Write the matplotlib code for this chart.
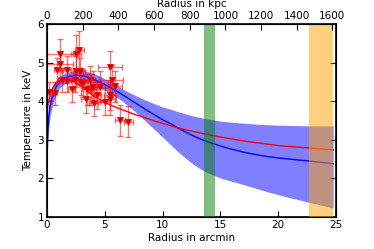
import matplotlib
matplotlib.use("Agg")
import matplotlib.pyplot as plt
import numpy as np

# ---- deprojected temperature data (arcmin, keV) ----
r_data = [0.20, 0.65, 0.89, 1.12, 1.12, 1.30, 1.70, 1.76, 2.13, 2.40, 2.51, 2.80, 2.51, 2.85,
          2.90, 3.14, 3.35, 3.43, 3.72, 3.80, 4.00, 4.05, 4.58, 4.30, 5.02, 5.45, 5.60, 5.88,
          5.45, 5.45, 6.31, 7.03]
t_data = [4.25, 4.20, 4.81, 5.22, 4.96, 4.55, 4.81, 4.53, 4.32, 4.55, 5.22, 5.33, 4.78, 4.78,
          4.50, 4.46, 4.05, 4.31, 4.55, 4.31, 4.38, 3.96, 4.38, 4.15, 3.99, 4.89, 4.55, 4.39,
          4.16, 4.05, 3.51, 3.47]
r_err = [0.20, 0.25, 0.30, 1.10, 1.10, 0.35, 0.35, 0.35, 0.30, 0.30, 0.40, 0.40, 0.30, 0.40,
         0.40, 0.40, 0.40, 0.40, 0.40, 0.40, 0.40, 0.40, 0.40, 0.40, 0.40, 1.00, 1.00, 0.60,
         0.50, 0.50, 0.40, 0.40]
t_err = [0.25, 0.30, 0.30, 0.40, 0.35, 0.30, 0.35, 0.30, 0.35, 0.30, 0.50, 0.50, 0.40, 0.35,
         0.35, 0.35, 0.35, 0.40, 0.35, 0.40, 0.40, 0.35, 0.40, 0.35, 0.35, 0.40, 0.40, 0.40,
         0.40, 0.40, 0.40, 0.40]

# ---- model profile + confidence band ----
r_model = [0.0, 0.05, 0.15, 0.25, 0.4, 0.6, 0.8, 1.1, 1.5, 2.0, 2.5, 3.0, 3.5, 4.0, 4.5, 5.0,
           5.5, 6.3, 7.0, 7.5, 8.0, 8.5, 9.0, 9.5, 10.0, 10.6, 11.3, 12.0, 12.6, 13.2, 13.8,
           14.5, 15.1, 15.8, 17.0, 18.0, 19.0, 20.0, 21.3, 22.7, 24.75]
t_model = [2.60, 3.10, 3.60, 3.85, 4.05, 4.24, 4.38, 4.50, 4.60, 4.65, 4.67, 4.66, 4.63, 4.57,
           4.50, 4.43, 4.35, 4.21, 4.08, 3.98, 3.89, 3.79, 3.70, 3.61, 3.52, 3.43, 3.31, 3.20,
           3.11, 3.03, 2.96, 2.89, 2.83, 2.77, 2.68, 2.62, 2.57, 2.53, 2.49, 2.45, 2.38]
t_upper = [3.00, 3.50, 3.90, 4.12, 4.30, 4.45, 4.55, 4.65, 4.72, 4.77, 4.80, 4.80, 4.77, 4.72,
           4.66, 4.58, 4.50, 4.36, 4.24, 4.17, 4.10, 4.03, 3.97, 3.91, 3.85, 3.80, 3.73, 3.67,
           3.62, 3.58, 3.54, 3.51, 3.48, 3.46, 3.43, 3.41, 3.39, 3.38, 3.37, 3.36, 3.36]
t_lower = [2.20, 2.75, 3.30, 3.58, 3.80, 4.03, 4.20, 4.35, 4.45, 4.51, 4.53, 4.52, 4.48, 4.42,
           4.35, 4.28, 4.20, 4.05, 3.88, 3.76, 3.63, 3.49, 3.35, 3.21, 3.07, 2.90, 2.70, 2.52,
           2.38, 2.26, 2.16, 2.07, 2.00, 1.94, 1.84, 1.75, 1.66, 1.58, 1.48, 1.38, 1.23]

# ---- second (red) model ----
r_red = [0.0, 0.1, 0.3, 0.5, 0.7, 1.0, 1.4, 1.8, 2.2, 2.7, 3.3, 4.15, 5.0, 5.8, 6.5, 7.2,
         7.87, 8.7, 9.5, 10.3, 11.07, 12.1, 13.2, 14.5, 15.8, 17.0, 18.0, 20.0, 22.5, 24.75]
t_red = [3.70, 3.95, 4.20, 4.35, 4.45, 4.52, 4.56, 4.56, 4.52, 4.44, 4.31, 4.11, 3.97, 3.86,
         3.78, 3.70, 3.63, 3.55, 3.47, 3.40, 3.33, 3.25, 3.18, 3.10, 3.03, 2.97, 2.93, 2.85,
         2.79, 2.74]

# shaded radial ranges (arcmin)
green_span = (13.55, 14.5)
orange_span = (22.7, 24.75)

KPC_PER_ARCMIN = 64.8

plt.rcParams["font.family"] = "DejaVu Sans"
plt.rcParams["font.size"] = 7.5

fig = plt.figure(figsize=(3.74, 2.49), dpi=100)
ax = fig.add_axes([0.1257, 0.1285, 0.7727, 0.7751])

ax.fill_between(r_model, t_lower, t_upper, color="blue", alpha=0.5, lw=0, zorder=1)
ax.plot(r_model, t_model, color="blue", lw=1.0, zorder=2)
ax.plot(r_red, t_red, color="red", lw=1.0, zorder=2)

ax.errorbar(r_data, t_data, xerr=r_err, yerr=t_err, fmt="none", ecolor="red",
            elinewidth=1.0, capsize=2, alpha=0.55, zorder=3)
ax.plot(r_data, t_data, "v", ms=4.5, mfc="#cc0000", mec="red", mew=0.6, zorder=4)

ax.axvspan(*green_span, color="green", alpha=0.5, lw=0, zorder=5)
ax.axvspan(*orange_span, color="orange", alpha=0.5, lw=0, zorder=5)

ax.set_xlim(0, 25)
ax.set_ylim(1, 6)
ax.set_xticks([0, 5, 10, 15, 20, 25])
ax.set_yticks([1, 2, 3, 4, 5, 6])
ax.set_xlabel("Radius in arcmin", labelpad=2)
ax.set_ylabel("Temperature in keV", labelpad=3)
ax.tick_params(direction="in", length=4, width=0.8, right=True, top=False, pad=2)
for s in ax.spines.values():
    s.set_linewidth(1.2)

top = ax.twiny()
top.set_xlim(0, 25 * KPC_PER_ARCMIN)
top.set_xticks(np.arange(0, 1601, 200))
top.set_xlabel("Radius in kpc", labelpad=3)
top.tick_params(direction="in", length=4, width=0.8, pad=2)

fig.savefig("out.png", dpi=100)
